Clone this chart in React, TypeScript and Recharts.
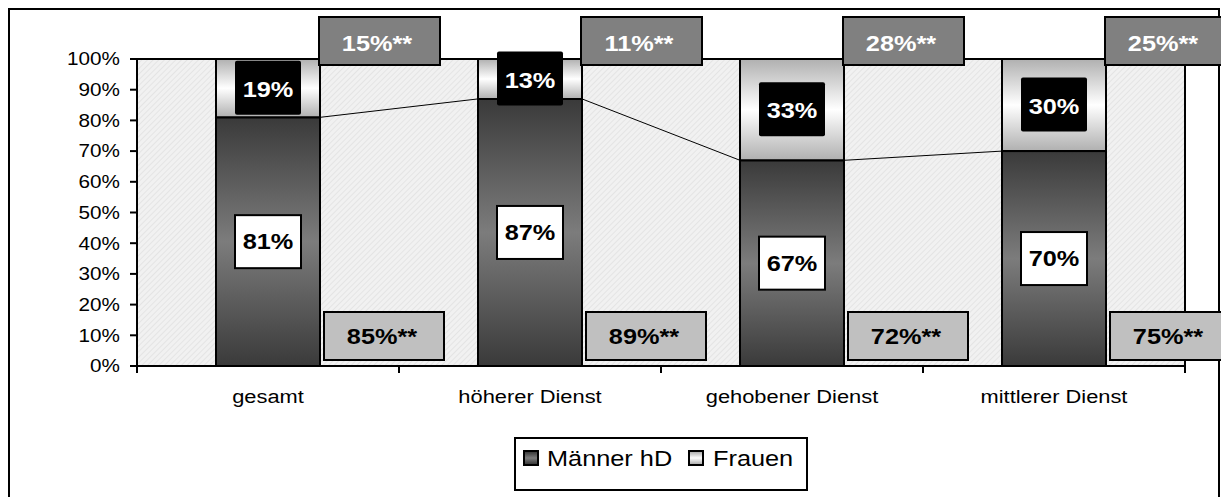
import { Bar, BarChart, CartesianGrid, LabelList, Legend, XAxis, YAxis } from "recharts";

const categories = ["gesamt", "höherer Dienst", "gehobener Dienst", "mittlerer Dienst"];
const maenner = [81, 87, 67, 70];
const frauen = [19, 13, 33, 30];
// comparison values shown in the grey boxes (marked **)
const maennerVergleich = [85, 89, 72, 75];
const frauenVergleich = [15, 11, 28, 25];
const yTicks = [0, 10, 20, 30, 40, 50, 60, 70, 80, 90, 100];
const seriesNames = ["Männer hD", "Frauen"];

const data = categories.map((name, i) => ({ name, maenner: maenner[i], frauen: frauen[i] }));

const CHART_W = 1208;
const CHART_H = 496;
const MARGIN = { top: 49, right: 33, bottom: 15, left: 67 };
const Y_W = 60;
const PLOT_W = CHART_W - MARGIN.left - MARGIN.right - Y_W;
const BAND = PLOT_W / categories.length;
const SX = 1.15; // the original text is slightly stretched horizontally
const FONT = "Arial, 'Liberation Sans', sans-serif";

function SText({ x, y, size, bold = false, fill = "#000", anchor = "middle", children }: any) {
  return (
    <text
      transform={`translate(${x} ${y}) scale(${SX} 1)`}
      textAnchor={anchor}
      dy="0.35em"
      fontSize={size}
      fontWeight={bold ? 700 : 400}
      fill={fill}
      fontFamily={FONT}
    >
      {children}
    </text>
  );
}

const box = (p: any) => (p.viewBox && p.viewBox.width != null ? p.viewBox : p);

function YTick({ x, y, payload }: any) {
  return <SText x={x} y={y} size={18} anchor="end">{`${payload.value}%`}</SText>;
}

function XTick({ x, y, payload, index }: any) {
  return (
    <g>
      <line x1={x - BAND / 2} x2={x - BAND / 2} y1={y} y2={y + 7} stroke="#000" strokeWidth={2} />
      {index === categories.length - 1 && (
        <line x1={x + BAND / 2} x2={x + BAND / 2} y1={y} y2={y + 7} stroke="#000" strokeWidth={2} />
      )}
      <SText x={x} y={y + 30} size={19}>{payload.value}</SText>
    </g>
  );
}

function MaennerShape(props: any) {
  const { x, y, width, height, index } = props;
  const base = y + height;
  const next = data[index + 1];
  const nextY = next ? base - (height * next.maenner) / data[index].maenner : 0;
  return (
    <g>
      <rect x={x} y={y} width={width} height={height} fill="url(#gradMaenner)" stroke="#000" strokeWidth={2} />
      {next && <line x1={x + width} y1={y} x2={x + BAND} y2={nextY} stroke="#000" strokeWidth={1} />}
    </g>
  );
}

function MaennerLabel(props: any) {
  const { x, y, width, height } = box(props);
  const { value, index } = props;
  const cx = x + width / 2;
  const cy = y + height / 2;
  const bx = x + width + 4;
  const by = y + height - 54;
  return (
    <g>
      <rect x={cx - 33} y={cy - 26.5} width={66} height={53} fill="#fff" stroke="#000" strokeWidth={2} />
      <SText x={cx} y={cy} size={22} bold>{`${value}%`}</SText>
      <rect x={bx} y={by} width={120} height={48} fill="#c0c0c0" stroke="#000" strokeWidth={2} />
      <SText x={bx + 58} y={by + 24} size={22} bold>{`${maennerVergleich[index]}%**`}</SText>
    </g>
  );
}

function FrauenLabel(props: any) {
  const { x, y, width, height } = box(props);
  const { value, index } = props;
  const cx = x + width / 2;
  const cy = y + height / 2;
  const bx = x + width - 1;
  const by = y - 42;
  return (
    <g>
      <rect x={cx - 33} y={cy - 27.5} width={66} height={54} rx={2} fill="#000" />
      <SText x={cx} y={cy + 1} size={22} bold fill="#fff">{`${value}%`}</SText>
      <rect x={bx} y={by} width={121} height={48} fill="#808080" stroke="#000" strokeWidth={2} />
      <SText x={bx + 58} y={by + 26} size={22} bold fill="#fff">{`${frauenVergleich[index]}%**`}</SText>
    </g>
  );
}

function LegendBox() {
  const text = {
    position: "absolute" as const,
    top: 7,
    lineHeight: "25px",
    whiteSpace: "nowrap" as const,
    transform: `scaleX(${SX})`,
    transformOrigin: "left",
  };
  const swatch = {
    position: "absolute" as const,
    top: 11,
    width: 16,
    height: 16,
    boxSizing: "border-box" as const,
    border: "2px solid #000",
  };
  return (
    <div
      style={{
        position: "relative",
        width: 294,
        height: 54,
        boxSizing: "border-box",
        border: "2px solid #000",
        background: "#fff",
        fontFamily: FONT,
        fontSize: 22,
        color: "#000",
      }}
    >
      <span style={{ ...swatch, left: 7, background: "linear-gradient(#3a3a3a, #7c7c7c, #3a3a3a)" }} />
      <span style={{ ...text, left: 31 }}>{seriesNames[0]}</span>
      <span style={{ ...swatch, left: 172, background: "linear-gradient(#b0b0b0, #ffffff, #b0b0b0)" }} />
      <span style={{ ...text, left: 197 }}>{seriesNames[1]}</span>
    </div>
  );
}

export default function App() {
  return (
    <div
      style={{
        position: "relative",
        width: 1212,
        height: 500,
        boxSizing: "border-box",
        border: "2px solid #000",
        background: "#fff",
      }}
    >
      <style>{`html,body{overflow:hidden}.recharts-surface{overflow:visible}`}</style>
      <svg width={0} height={0} style={{ position: "absolute" }}>
        <defs>
          <linearGradient id="gradMaenner" x1="0" y1="0" x2="0" y2="1">
            <stop offset="0" stopColor="#3a3a3a" />
            <stop offset="0.5" stopColor="#7c7c7c" />
            <stop offset="1" stopColor="#3a3a3a" />
          </linearGradient>
          <linearGradient id="gradFrauen" x1="0" y1="0" x2="0" y2="1">
            <stop offset="0" stopColor="#b0b0b0" />
            <stop offset="0.5" stopColor="#ffffff" />
            <stop offset="1" stopColor="#b0b0b0" />
          </linearGradient>
          <pattern id="bgPat" width="4" height="4" patternUnits="userSpaceOnUse" patternTransform="rotate(45)">
            <rect width="4" height="4" fill="#f1f1f1" />
            <rect width="1" height="4" fill="#e4e4e4" />
          </pattern>
        </defs>
      </svg>
      <BarChart width={CHART_W} height={CHART_H} data={data} margin={MARGIN}>
        {/* plot area: textured background, black frame on top and right */}
        <CartesianGrid
          fill="url(#bgPat)"
          stroke="#000"
          strokeWidth={2}
          horizontalCoordinatesGenerator={({ offset }: any) => [offset.top]}
          verticalCoordinatesGenerator={({ offset }: any) => [offset.left + offset.width]}
        />
        <XAxis
          dataKey="name"
          height={71}
          interval={0}
          tickSize={0}
          tickMargin={0}
          tickLine={false}
          tick={<XTick />}
          axisLine={{ stroke: "#000", strokeWidth: 2 }}
        />
        <YAxis
          width={Y_W}
          domain={[0, 100]}
          ticks={yTicks}
          interval={0}
          tickSize={7}
          tickMargin={10}
          tick={<YTick />}
          tickLine={{ stroke: "#000", strokeWidth: 2 }}
          axisLine={{ stroke: "#000", strokeWidth: 2 }}
        />
        <Legend
          verticalAlign="bottom"
          content={<LegendBox />}
          wrapperStyle={{ left: 504, width: 294 }}
        />
        <Bar
          dataKey="maenner"
          name={seriesNames[0]}
          stackId="a"
          barSize={104}
          fill="url(#gradMaenner)"
          shape={<MaennerShape />}
          isAnimationActive={false}
        >
          <LabelList dataKey="maenner" content={<MaennerLabel />} />
        </Bar>
        <Bar
          dataKey="frauen"
          name={seriesNames[1]}
          stackId="a"
          barSize={104}
          fill="url(#gradFrauen)"
          stroke="#000"
          strokeWidth={2}
          isAnimationActive={false}
        >
          <LabelList dataKey="frauen" content={<FrauenLabel />} />
        </Bar>
      </BarChart>
    </div>
  );
}
